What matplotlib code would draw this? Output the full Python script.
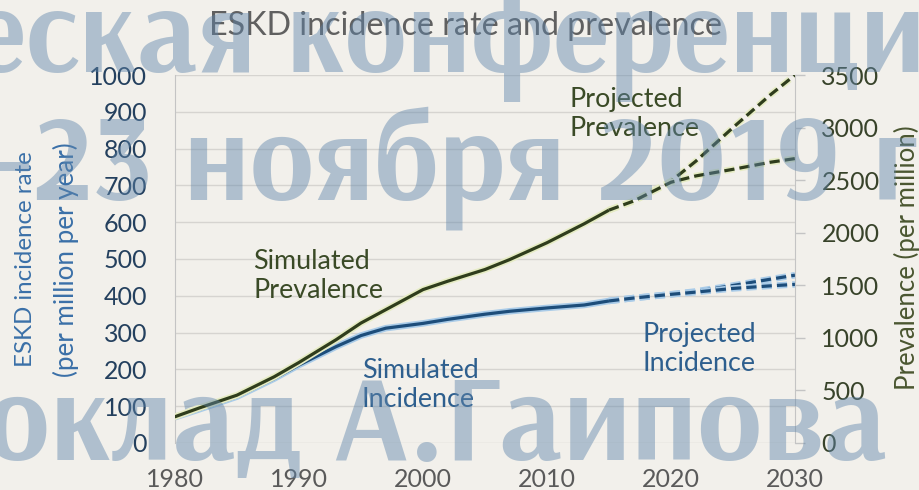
import matplotlib
matplotlib.use('Agg')
import matplotlib.pyplot as plt
import matplotlib.patheffects as pe
from matplotlib import font_manager as fm
from matplotlib.textpath import TextPath
from matplotlib.ft2font import FT2Font

# ---------------- data ----------------
sim_years = [1980, 1982, 1985, 1988, 1990, 1993, 1995, 1997, 2000, 2002, 2005, 2007, 2010, 2013, 2015]
sim_incidence = [70, 92, 126, 175, 212, 262, 292, 312, 325, 336, 350, 358, 367, 375, 386]
sim_prevalence = [250, 335, 455, 630, 766, 983, 1141, 1268, 1459, 1539, 1650, 1745, 1905, 2085, 2215]

proj_years = [2015, 2017, 2020, 2022, 2025, 2028, 2030]
proj_inc_high = [386, 394, 404, 412, 428, 445, 456]
proj_inc_low = [386, 394, 404, 410, 420, 427, 431]
proj_prev_high = [2215, 2302, 2490, 2680, 3000, 3310, 3500]
proj_prev_low = [2215, 2302, 2480, 2540, 2603, 2670, 2705]

x_ticks = [1980, 1990, 2000, 2010, 2020, 2030]
left_ticks = list(range(0, 1001, 100))
right_ticks = list(range(0, 3501, 500))

title = "ESKD incidence rate and prevalence"
left_label_1 = "ESKD incidence rate"
left_label_2 = "(per million per year)"
right_label = "Prevalence (per million)"
watermark = ["еская конференци", "-23 ноября 2019 г", "оклад А.Гаипова"]

# ---------------- style ----------------
plt.rcParams['font.family'] = ['Lato', 'DejaVu Sans']
BG = '#f2f0eb'
GREEN = '#2f3d1c'
GREEN_GLOW = '#e6ecc4'
BLUE = '#1d4d7a'
BLUE_GLOW = '#a9cbe8'
W, H = 920, 490


def pick_wm_font(sample, target_ratio):
    """Choose an installed bold sans font whose width / x-height ratio matches the watermark."""
    best = None
    seen = set()
    for f in fm.fontManager.ttflist:
        try:
            if f.weight not in (700, 'bold') or f.style != 'normal':
                continue
            nm = f.name
            if any(k in nm for k in ('Mono', 'Serif', 'Math', 'Symbol', 'CJK', 'Display')):
                continue
            if f.fname in seen:
                continue
            seen.add(f.fname)
            cmap = FT2Font(f.fname).get_charmap()
            if not all(ord(c) in cmap for c in set(sample.replace(' ', ''))):
                continue
            fp = fm.FontProperties(fname=f.fname)
            wdt = TextPath((0, 0), sample, size=100, prop=fp).get_extents().width
            xh = TextPath((0, 0), 'x', size=100, prop=fp).get_extents().height
            r = wdt / xh
            d = abs(r - target_ratio)
            if best is None or d < best[0]:
                best = (d, f.fname)
        except Exception:
            continue
    if best is not None:
        return fm.FontProperties(fname=best[1])
    return fm.FontProperties(family=['Roboto', 'DejaVu Sans'], weight='bold')


fig = plt.figure(figsize=(9.2, 4.9), dpi=100, facecolor=BG)
ax = fig.add_axes([175 / W, 1 - 443 / H, 620 / W, 368 / H])
ax.set_facecolor(BG)
ax2 = ax.twinx()

ax.set_xlim(1980, 2030)
ax.set_ylim(0, 1000)
ax2.set_ylim(0, 3500)
ax.set_xticks(x_ticks)
ax.set_yticks(left_ticks)
ax2.set_yticks(right_ticks)

ax.yaxis.grid(True, color='#d6d4d0', lw=1.0)
ax.set_axisbelow(True)
for s in ['top', 'bottom', 'right']:
    ax.spines[s].set_visible(False)
ax.spines['left'].set_color('#c4c4c4')
for s in ['top', 'bottom', 'left']:
    ax2.spines[s].set_visible(False)
ax2.spines['right'].set_color('#c4c4c4')

tick_fs = 18
ax.tick_params(axis='y', length=0, pad=20, labelsize=tick_fs, labelcolor='#24405e')
ax.tick_params(axis='x', length=0, pad=18, labelsize=tick_fs, labelcolor='#5a5a5a')
ax2.tick_params(axis='y', length=7, width=1, color='#c4c4c4', pad=12, labelsize=tick_fs,
                labelcolor='#38432a')

lw = 2.3
def glow(c):
    return [pe.Stroke(linewidth=lw + 2.4, foreground=c), pe.Normal()]

dash = (3.2, 1.6)
ax2.plot(sim_years, sim_prevalence, color=GREEN, lw=lw, path_effects=glow(GREEN_GLOW), solid_capstyle='round')
ax2.plot(proj_years, proj_prev_high, color=GREEN, lw=lw, dashes=dash, path_effects=glow(GREEN_GLOW))
ax2.plot(proj_years, proj_prev_low, color=GREEN, lw=lw, dashes=dash, path_effects=glow(GREEN_GLOW))
ax.plot(sim_years, sim_incidence, color=BLUE, lw=lw, path_effects=glow(BLUE_GLOW), solid_capstyle='round')
ax.plot(proj_years, proj_inc_high, color=BLUE, lw=lw, dashes=dash, path_effects=glow(BLUE_GLOW))
ax.plot(proj_years, proj_inc_low, color=BLUE, lw=lw, dashes=dash, path_effects=glow(BLUE_GLOW))

renderer = fig.canvas.get_renderer()

def fit(t, target, use_height=False):
    bb = t.get_window_extent(renderer)
    cur = bb.height if use_height else bb.width
    t.set_fontsize(t.get_fontsize() * target / cur)

def px(x, y):
    return x / W, 1 - y / H

# annotations
ann_color_g = '#3a4a26'
ann_color_b = '#2e5f8e'
a1 = fig.text(*px(253, 276), "Simulated\nPrevalence", ha='left', va='center', color=ann_color_g,
              fontsize=18, linespacing=1.2)
fit(a1, 130)
afs = a1.get_fontsize()
fig.text(*px(362, 385), "Simulated\nIncidence", ha='left', va='center', color=ann_color_b,
         fontsize=afs, linespacing=1.2)
fig.text(*px(570, 114), "Projected\nPrevalence", ha='left', va='center', color=ann_color_g,
         fontsize=afs, linespacing=1.2)
fig.text(*px(643, 349), "Projected\nIncidence", ha='left', va='center', color=ann_color_b,
         fontsize=afs, linespacing=1.2)

# title & axis labels
t = fig.text(*px(466, 26), title, ha='center', va='center', color='#606060', fontsize=20)
fit(t, 515)
l1 = fig.text(*px(26, 259), left_label_1, rotation=90, ha='center', va='center', color='#3a70a8', fontsize=18)
fit(l1, 215, True)
l2 = fig.text(*px(66, 260), left_label_2, rotation=90, ha='center', va='center', color='#3a70a8', fontsize=18)
fit(l2, 234, True)
r1 = fig.text(*px(907, 258), right_label, rotation=90, ha='center', va='center', color='#4a5630', fontsize=18)
fit(r1, 263, True)

# watermark
wm_prop = pick_wm_font(watermark[2], 14.5)
wm_specs = [(-30, 72, 955), (-8, 200, 926), (-15, 460, 902)]
for txt, (x0, yb, wd) in zip(watermark, wm_specs):
    fp = wm_prop.copy()
    fp.set_size(80)
    w = fig.text(*px(x0, yb), txt, ha='left', va='baseline', color='#5f85ab', alpha=0.45,
                 fontproperties=fp, zorder=10)
    fit(w, wd)

fig.savefig('out.png', dpi=100, facecolor=BG)
